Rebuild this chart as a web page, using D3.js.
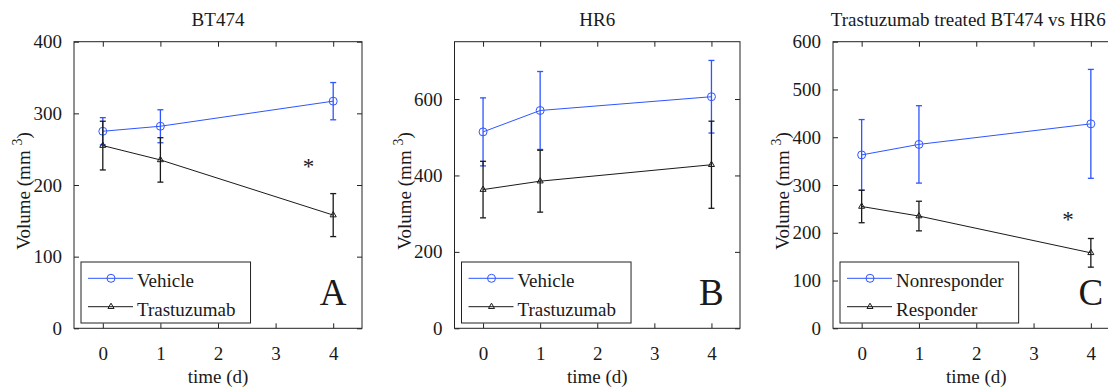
<!DOCTYPE html>
<html>
<head>
<meta charset="utf-8">
<script src="https://cdn.jsdelivr.net/npm/d3@7"></script>
<style>
  body { margin: 0; background: #fff; }
  svg { display: block; }
</style>
</head>
<body>
<script>
'use strict';

// time points (days)
const days = [0, 1, 4];
const xTicks = [0, 1, 2, 3, 4];

// tumour volume means and error (mm^3)
const bt474Vehicle = [275, 282, 317];
const bt474VehicleErr = [19, 23, 26];
const bt474Trast = [255, 235, 158];
const bt474TrastErr = [34, 31, 30];
const hr6Vehicle = [514, 570, 606];
const hr6VehicleErr = [89, 102, 95];
const hr6Trast = [363, 385, 428];
const hr6TrastErr = [74, 81, 114];

const titles = ["BT474", "HR6", "Trastuzumab treated BT474 vs HR6"];
const panelLetters = ["A", "B", "C"];
const yTicksA = [0, 100, 200, 300, 400];
const yTicksB = [0, 200, 400, 600];
const yTicksC = [0, 100, 200, 300, 400, 500, 600];

// significance marks [day, volume]
const starA = [3.57, 230];
const starC = [3.6, 233];

(function() {
  const BLUE = "#2f55ff";
  const BLACK = "#1a1a1a";
  const FONT = "'Liberation Serif', Tinos, 'Times New Roman', 'DejaVu Serif', serif";
  const plotTop = 41.7, plotBottom = 328.3;

  const svg = d3.select("body").append("svg")
    .attr("width", 1108)
    .attr("height", 387)
    .attr("font-family", FONT);

  const panels = [
    { left: 74, right: 362, yMax: 400, yTicks: yTicksA, title: titles[0], letter: panelLetters[0],
      series: [
        { name: "Vehicle", values: bt474Vehicle, err: bt474VehicleErr, color: BLUE, marker: "circle" },
        { name: "Trastuzumab", values: bt474Trast, err: bt474TrastErr, color: BLACK, marker: "triangle" }
      ], star: starA },
    { left: 454.5, right: 740, yMax: 750, yTicks: yTicksB, title: titles[1], letter: panelLetters[1],
      series: [
        { name: "Vehicle", values: hr6Vehicle, err: hr6VehicleErr, color: BLUE, marker: "circle" },
        { name: "Trastuzumab", values: hr6Trast, err: hr6TrastErr, color: BLACK, marker: "triangle" }
      ], star: null },
    { left: 833, right: 1119.5, yMax: 600, yTicks: yTicksC, title: titles[2], letter: panelLetters[2],
      series: [
        { name: "Nonresponder", values: hr6Trast, err: hr6TrastErr, color: BLUE, marker: "circle" },
        { name: "Responder", values: bt474Trast, err: bt474TrastErr, color: BLACK, marker: "triangle" }
      ], star: starC }
  ];

  panels.forEach(drawPanel);

  // all text in the same serif face
  svg.selectAll("text")
    .attr("font-family", FONT)
    .style("font-family", FONT)
    .attr("fill", "#1a1a1a");

  function drawPanel(p) {
    let x = d3.scaleLinear().domain([-0.5, 4.5]).range([p.left, p.right]);
    let y = d3.scaleLinear().domain([0, p.yMax]).range([plotBottom, plotTop]);
    let g = svg.append("g");

    // axes with inward ticks
    g.append("g").attr("transform", `translate(0,${plotBottom})`)
      .call(d3.axisBottom(x).tickValues(xTicks).tickFormat(d3.format("d"))
        .tickSizeInner(-5).tickSizeOuter(0).tickPadding(18));
    g.append("g").attr("transform", `translate(0,${plotTop})`)
      .call(d3.axisTop(x).tickValues(xTicks).tickSizeInner(-5).tickSizeOuter(0).tickFormat(""));
    g.append("g").attr("transform", `translate(${p.left},0)`)
      .call(d3.axisLeft(y).tickValues(p.yTicks).tickFormat(d3.format("d"))
        .tickSizeInner(-5).tickSizeOuter(0).tickPadding(12));
    g.append("g").attr("transform", `translate(${p.right},0)`)
      .call(d3.axisRight(y).tickValues(p.yTicks).tickSizeInner(-5).tickSizeOuter(0).tickFormat(""));
    g.selectAll(".domain").remove();
    g.selectAll(".tick line").attr("stroke", "#222");
    g.selectAll(".tick text").attr("font-size", 19).style("font-size", "19px");

    g.append("rect")
      .attr("x", p.left).attr("y", plotTop)
      .attr("width", p.right - p.left).attr("height", plotBottom - plotTop)
      .attr("fill", "none").attr("stroke", "#222").attr("stroke-width", 1);

    // title
    g.append("text")
      .attr("x", (p.left + p.right) / 2 - (p.letter === "C" ? 8 : 0))
      .attr("y", 26)
      .attr("text-anchor", "middle")
      .style("font-size", "19px")
      .text(p.title);

    // x label
    g.append("text")
      .attr("x", (p.left + p.right) / 2)
      .attr("y", 383)
      .attr("text-anchor", "middle")
      .style("font-size", "19px")
      .text("time (d)");

    // y label
    let yl = g.append("text")
      .attr("transform", `translate(${p.left - 44},${(plotTop + plotBottom) / 2 + 6})rotate(-90)`)
      .attr("text-anchor", "middle")
      .style("font-size", "19px");
    yl.append("tspan").text("Volume (mm ");
    yl.append("tspan").attr("dy", -8).style("font-size", "14px").text("3");
    yl.append("tspan").attr("dy", 8).text(")");

    // series
    p.series.forEach(function(s) {
      let pts = days.map((d, i) => ({ d: d, v: s.values[i], e: s.err[i] }));
      let line = d3.line().x(a => x(a.d)).y(a => y(a.v));
      g.append("path").datum(pts)
        .attr("d", line).attr("fill", "none")
        .attr("stroke", s.color).attr("stroke-width", 1);

      let eb = g.selectAll(null).data(pts).enter().append("g").attr("stroke", s.color).attr("stroke-width", 1.3);
      eb.append("line")
        .attr("x1", a => x(a.d)).attr("x2", a => x(a.d))
        .attr("y1", a => y(a.v - a.e)).attr("y2", a => y(a.v + a.e));
      eb.append("line")
        .attr("x1", a => x(a.d) - 3).attr("x2", a => x(a.d) + 3)
        .attr("y1", a => y(a.v + a.e)).attr("y2", a => y(a.v + a.e));
      eb.append("line")
        .attr("x1", a => x(a.d) - 3).attr("x2", a => x(a.d) + 3)
        .attr("y1", a => y(a.v - a.e)).attr("y2", a => y(a.v - a.e));

      g.selectAll(null).data(pts).enter().append("path")
        .attr("transform", a => `translate(${x(a.d)},${y(a.v)})`)
        .attr("d", markerPath(s.marker))
        .attr("fill", "none").attr("stroke", s.color).attr("stroke-width", 1);
    });

    // significance star
    if (p.star) {
      g.append("text")
        .attr("x", x(p.star[0]))
        .attr("y", y(p.star[1]) + 10)
        .attr("text-anchor", "middle")
        .style("font-size", "23px")
        .text("*");
    }

    // panel letter
    g.append("text")
      .attr("x", x(4))
      .attr("y", plotBottom - 23)
      .attr("text-anchor", "middle")
      .style("font-size", "37px")
      .text(p.letter);

    // legend
    let lx = p.left + 7, ly = 262;
    let leg = g.append("g");
    let box = leg.append("rect")
      .attr("x", lx).attr("y", ly).attr("height", 61)
      .attr("fill", "#fff").attr("stroke", "#222").attr("stroke-width", 1);
    let maxW = 0;
    p.series.forEach(function(s, i) {
      let yy = ly + 16.3 + i * 28.4;
      leg.append("line")
        .attr("x1", lx + 7).attr("x2", lx + 52)
        .attr("y1", yy).attr("y2", yy)
        .attr("stroke", s.color).attr("stroke-width", 1);
      leg.append("path")
        .attr("transform", `translate(${lx + 30},${yy})`)
        .attr("d", markerPath(s.marker))
        .attr("fill", "none").attr("stroke", s.color).attr("stroke-width", 1);
      let t = leg.append("text")
        .attr("x", lx + 56).attr("y", yy + 9)
        .attr("font-family", FONT)
        .style("font-family", FONT)
        .style("font-size", "19px")
        .text(s.name);
      maxW = Math.max(maxW, t.node().getComputedTextLength());
    });
    box.attr("width", maxW + 56 + 15);
  }

  function markerPath(kind) {
    if (kind === "circle") return d3.symbol().type(d3.symbolCircle).size(Math.PI * 16)();
    return d3.symbol().type(d3.symbolTriangle).size(16)();
  }
})();
</script>
</body>
</html>
